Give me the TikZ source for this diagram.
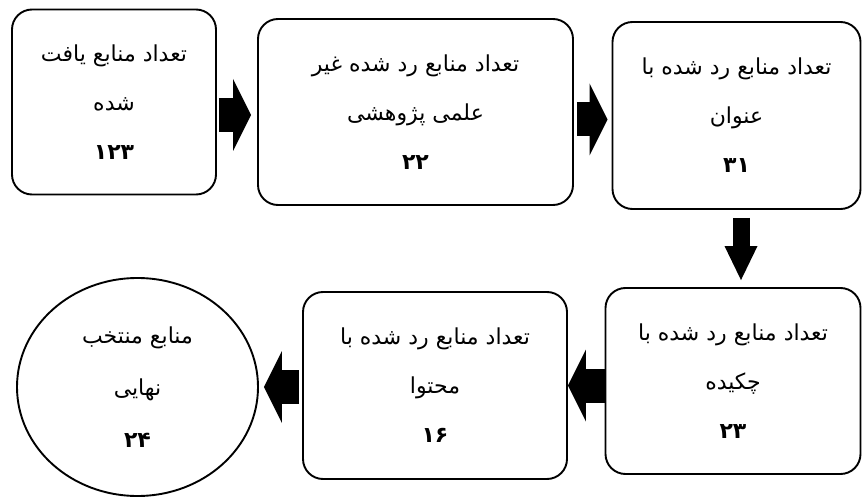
\documentclass[tikz,border=0pt]{standalone}
\usepackage{fontspec}
\newfontfamily\arabicfont[Script=Arabic]{DejaVu Sans}
\TeXXeTstate=1
\newcommand{\fa}[1]{\beginR #1\endR}
\usetikzlibrary{shapes.geometric, arrows.meta}
\tikzstyle{block} = [rectangle, draw, line width=1.9pt, rounded corners=20pt,
    align=center, font=\arabicfont\fontsize{22}{49}\selectfont]
\tikzstyle{final} = [ellipse, draw, line width=1.9pt, inner sep=0pt,
    align=center, font=\arabicfont\fontsize{22}{52}\selectfont]
\tikzstyle{fat} = [draw, line width=34pt, -{Triangle[length=18pt,width=72pt,line width=0pt]}]
\tikzstyle{fatdown} = [draw, line width=17pt, -{Triangle[length=34pt,width=33pt,line width=0pt]}]

\begin{document}
\begin{tikzpicture}
        \useasboundingbox (0,0) rectangle (862pt,-497pt);
        % Place nodes
        \node [block, minimum width=204pt, minimum height=185pt] at (114pt,-102pt) (found)
            {\fa{تعداد منابع یافت}\\ \fa{شده}\\ {\bfseries\fa{۱۲۳}}};
        \node [block, right of=found, node distance=301.5pt, yshift=-10pt,
            minimum width=315pt, minimum height=186pt] (nonsci)
            {\fa{تعداد منابع رد شده غیر}\\ \fa{علمی پژوهشی}\\ {\bfseries\fa{۲۲}}};
        \node [block, right of=nonsci, node distance=321pt, yshift=-3.5pt,
            minimum width=248pt, minimum height=187pt] (title)
            {\fa{تعداد منابع رد شده با}\\ \fa{عنوان}\\ {\bfseries\fa{۳۱}}};
        \node [block, below of=title, node distance=265.5pt, xshift=-3.5pt,
            minimum width=255pt, minimum height=186pt] (abstract)
            {\fa{تعداد منابع رد شده با}\\ \fa{چکیده}\\ {\bfseries\fa{۲۳}}};
        \node [block, left of=abstract, node distance=298pt, yshift=-4.5pt,
            minimum width=264pt, minimum height=187pt] (content)
            {\fa{تعداد منابع رد شده با}\\ \fa{محتوا}\\ {\bfseries\fa{۱۶}}};
        \node [final, left of=content, node distance=297.5pt, yshift=-1.5pt,
            minimum width=241pt, minimum height=218pt] (selected)
            {\fa{منابع منتخب}\\ \fa{نهایی}\\ {\bfseries\fa{۲۴}}};
        % Draw edges
        \path [fat, shorten <=2pt, shorten >=6pt] ([yshift=-3pt]found.east |- nonsci.west) -- ([yshift=-3pt]nonsci.west);
        \path [fat, shorten <=3pt, shorten >=4pt] ([yshift=-4pt]nonsci.east |- title.west) -- ([yshift=-4pt]title.west);
        \path [fatdown, shorten <=8pt, shorten >=7pt] ([xshift=4.5pt]title.south) -- ([xshift=4.5pt]title.south |- abstract.north);
        \path [fat] (abstract.west |- content.east) -- (content.east);
        \path [fat, shorten <=3pt, shorten >=5pt] (content.west |- selected.east) -- (selected.east);
\end{tikzpicture}
\end{document}
